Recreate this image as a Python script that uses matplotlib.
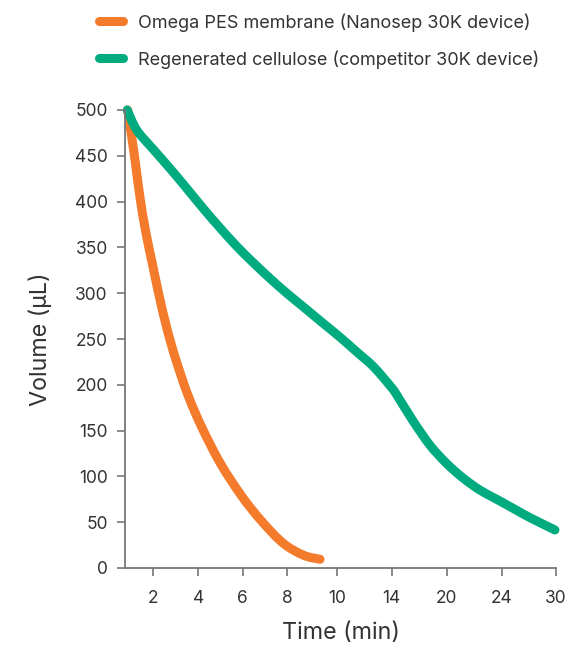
import numpy as np
import matplotlib
matplotlib.use("Agg")
import matplotlib.pyplot as plt
from matplotlib.path import Path
from matplotlib.patches import PathPatch
from matplotlib.lines import Line2D

plt.rcParams['font.family'] = ['Inter', 'DejaVu Sans']

# curves
pes_time = [0.85, 1.03, 1.21, 1.40, 1.66, 1.96, 2.27, 2.60, 2.97, 3.52, 4.15,
            5.0, 5.97, 6.86, 7.83, 8.66, 9.33]
pes_vol = [500, 471, 440, 405, 367, 332, 296, 262, 230, 190, 154,
           114, 78, 51, 27, 14, 9.5]

rc_time = [0.83, 1.26, 2.0, 2.75, 3.50, 4.24, 4.99, 5.74, 6.49, 7.24, 7.99, 8.75,
           9.46, 10.24, 11.45, 12.66, 13.88, 14.55, 16.36, 18.18, 20.0, 21.21,
           22.42, 23.64, 25.28, 27.12, 28.96, 29.88]
rc_vol = [500, 478, 457, 436, 414, 392, 371, 351, 333, 316, 300, 283,
          267, 252, 236, 220, 199, 189, 160, 134, 114, 98,
          85, 75, 65, 55, 46, 41.5]

xticks = [2, 4, 6, 8, 10, 14, 20, 24, 30]
yticks = [0, 50, 100, 150, 200, 250, 300, 350, 400, 450, 500]

labels = ["Omega PES membrane (Nanosep 30K device)",
          "Regenerated cellulose (competitor 30K device)"]
colors = ["#F47B2C", "#00AC7F"]

# the time axis is not linear: piecewise scale through the tick marks
knot_t = np.array([0, 2, 4, 6, 8, 10, 14, 20, 24, 30, 40])
knot_p = np.array([108.7, 153.3, 198.3, 242.7, 287.0, 336.7, 391.7, 446.7, 501.7, 556.0, 646.5])

def fwd(t):
    return np.interp(t, knot_t, knot_p)

def inv(p):
    return np.interp(p, knot_p, knot_t)

def smooth_path(x, y):
    # catmull-rom through the points, as cubic beziers
    p = np.column_stack([x, y])
    n = len(p)
    verts = [p[0]]
    codes = [Path.MOVETO]
    for i in range(n - 1):
        p0, p1, p2, p3 = p[max(i - 1, 0)], p[i], p[i + 1], p[min(i + 2, n - 1)]
        verts += [p1 + (p2 - p0) / 6, p2 - (p3 - p1) / 6, p2]
        codes += [Path.CURVE4] * 3
    return Path(verts, codes)

fig = plt.figure(figsize=(5.68, 6.52), dpi=100)
ax = fig.add_axes([125/568, 1 - 568/652, (556 - 125)/568, (568 - 110)/652])
ax.set_xscale('function', functions=(fwd, inv))
ax.set_xlim(inv(125), 30)
ax.set_ylim(0, 500)

handles = []
for t, v, lab, c in zip([pes_time, rc_time], [pes_vol, rc_vol], labels, colors):
    path = smooth_path(fwd(np.array(t)), np.array(v, dtype=float))
    patch = PathPatch(path, fill=False, edgecolor=c, lw=6.5, capstyle='round',
                      joinstyle='round', transform=ax.transLimits + ax.transAxes,
                      clip_on=False)
    ax.add_patch(patch)
    handles.append(Line2D([], [], color=c, lw=6.5, solid_capstyle='round', label=lab))

ax.set_xticks(xticks)
ax.set_xticklabels([str(x) for x in xticks])
ax.set_yticks(yticks)
ax.minorticks_off()

for s in ['top', 'right']:
    ax.spines[s].set_visible(False)
for s in ['left', 'bottom']:
    ax.spines[s].set_color('#777777')
    ax.spines[s].set_linewidth(1.3)
ax.tick_params(colors='#777777', length=6, width=1.2, labelcolor='#333333', labelsize=12.5)
ax.tick_params(axis='y', pad=6.5)
ax.tick_params(axis='x', pad=10)

ax.set_xlabel("Time (min)", fontsize=16.8, color='#333333', labelpad=11)
ax.set_ylabel("Volume (µL)", fontsize=16.8, color='#333333', labelpad=16)

fig.legend(handles=handles, loc='upper left', bbox_to_anchor=(92/568, 1 - 6/652),
           frameon=False, fontsize=13, handlelength=1.33, handletextpad=0.8,
           labelspacing=1.02, borderaxespad=0, labelcolor='#333333')

fig.savefig("out.png", dpi=100)
